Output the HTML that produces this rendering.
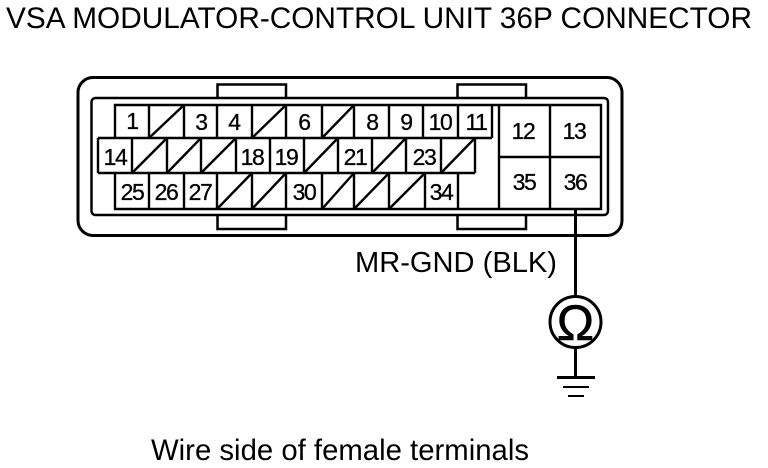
<!DOCTYPE html>
<html><head><meta charset="utf-8"><style>
html,body{margin:0;padding:0;background:#fff}
svg{display:block}
text{font-family:"Liberation Sans",sans-serif;fill:#000}
.n{font-size:23px;text-anchor:middle;letter-spacing:-1.4px;stroke:#000;stroke-width:.3px}
.l{stroke:#000;fill:none}
</style></head><body>
<svg width="768" height="468" viewBox="0 0 768 468" xmlns="http://www.w3.org/2000/svg">
<text x="6" y="28" font-size="30" textLength="746" lengthAdjust="spacingAndGlyphs">VSA MODULATOR-CONTROL UNIT 36P CONNECTOR</text>
<!-- body -->
<rect class="l" x="78" y="77.5" width="544" height="158" rx="15" stroke-width="3"/>
<path class="l" stroke-width="2.5" d="M217.5 98V84.5H286V98M457.5 98V84.5H526V98M217.5 215V229H286V215M457.5 215V229H526V215"/>
<rect class="l" x="91.5" y="98" width="516.5" height="117" rx="4" stroke-width="2.5"/>
<!-- grid -->
<g class="l" stroke-width="2.4">
<path d="M115 138V105H601V209H115V173M98 138H492M98 173H475M98 138V173M475 173V138M492 105V138"/>
<path d="M149 105V138M184 105V138M217 105V138M252 105V138M286 105V138M322 105V138M354 105V138M389 105V138M423 105V138M458 105V138"/>
<path d="M132 138V173M167 138V173M201 138V173M236 138V173M270 138V173M304 138V173M338 138V173M372 138V173M406 138V173M441 138V173"/>
<path d="M149 173V209M184 173V209M217 173V209M252 173V209M286 173V209M322 173V209M354 173V209M389 173V209M425 173V209M458 173V209"/>
<path d="M499 105V209M550 105V209M499 157H601"/>
<path d="M149 138L184 105M252 138L286 105M322 138L354 105"/>
<path d="M132 173L167 138M167 173L201 138M201 173L236 138M304 173L338 138M372 173L406 138M441 173L475 138"/>
<path d="M217 209L252 173M252 209L286 173M322 209L354 173M354 209L389 173M389 209L425 173"/>
</g>
<g>
<text class="n" x="132" y="129">1</text><text class="n" x="201" y="130">3</text><text class="n" x="234" y="130">4</text><text class="n" x="304" y="130">6</text><text class="n" x="372" y="130">8</text><text class="n" x="406" y="130">9</text><text class="n" x="440" y="130">10</text><text class="n" x="476" y="130">11</text>
<text class="n" x="115" y="165">14</text><text class="n" x="252" y="165">18</text><text class="n" x="286" y="165">19</text><text class="n" x="355" y="165">21</text><text class="n" x="424" y="165">23</text>
<text class="n" x="132" y="200">25</text><text class="n" x="166" y="200">26</text><text class="n" x="200" y="200">27</text><text class="n" x="304" y="200">30</text><text class="n" x="441" y="200">34</text>
<text class="n" x="523" y="139">12</text><text class="n" x="574" y="139">13</text><text class="n" x="524" y="190">35</text><text class="n" x="575" y="190">36</text>
</g>
<text x="355" y="272" font-size="29" textLength="202" lengthAdjust="spacingAndGlyphs">MR-GND (BLK)</text>
<!-- meter -->
<path class="l" stroke-width="3" d="M575.5 209V297M575.5 348V378"/>
<circle class="l" cx="575.5" cy="322" r="25.5" stroke-width="3"/>
<text x="575.5" y="340" font-size="50" text-anchor="middle" stroke="#000" stroke-width=".6">Ω</text>
<path class="l" stroke-width="3" d="M557 377.5H595"/>
<path class="l" stroke-width="2" d="M563 387H589M568 396H584"/>
<text x="151" y="460" font-size="29.5" textLength="378" lengthAdjust="spacingAndGlyphs">Wire side of female terminals</text>
</svg>
</body></html>
